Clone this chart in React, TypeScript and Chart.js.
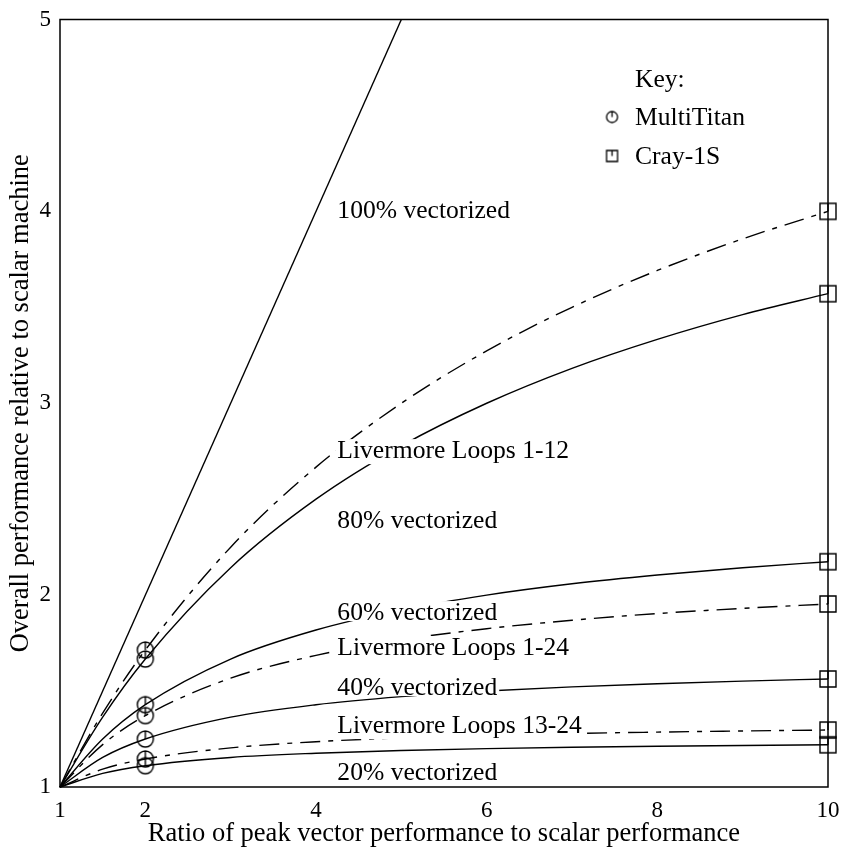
import React, { useEffect, useRef } from "react";
import { Chart, registerables } from "chart.js";

Chart.register(...registerables);

// ---- data ----
const ratios = [1, 1.5, 2, 3, 4, 5, 6, 7, 8, 9, 10];
const vec20 = [1, 1.071, 1.111, 1.154, 1.176, 1.19, 1.2, 1.207, 1.212, 1.216, 1.22];
const vec40 = [1, 1.154, 1.25, 1.364, 1.429, 1.471, 1.5, 1.522, 1.538, 1.552, 1.563];
const vec60 = [1, 1.25, 1.429, 1.667, 1.818, 1.923, 2.0, 2.059, 2.105, 2.143, 2.174];
const vec80 = [1, 1.364, 1.667, 2.143, 2.5, 2.778, 3.0, 3.182, 3.333, 3.462, 3.571];
const vec100Ratios = [1, 5];
const vec100 = [1, 5];
const ll1to12 = [1, 1.385, 1.714, 2.25, 2.667, 3.0, 3.273, 3.5, 3.692, 3.857, 4.0];
const ll1to24 = [1, 1.221, 1.372, 1.567, 1.686, 1.767, 1.825, 1.869, 1.904, 1.931, 1.954];
const ll13to24 = [1, 1.093, 1.146, 1.204, 1.236, 1.256, 1.269, 1.279, 1.286, 1.292, 1.297];

const multiTitanRatio = 2;
const cray1SRatio = 10;

const xTickValues = [1, 2, 4, 6, 8, 10];
const yTickValues = [1, 2, 3, 4, 5];

const curveLabels = [
  "100% vectorized",
  "Livermore Loops 1-12",
  "80% vectorized",
  "60% vectorized",
  "Livermore Loops 1-24",
  "40% vectorized",
  "Livermore Loops 13-24",
  "20% vectorized",
];
// label anchors (data units: left x, text baseline y)
const curveLabelX = 4.25;
const curveLabelBaseY = [3.965, 2.714, 2.35, 1.87, 1.688, 1.479, 1.281, 1.036];

const keyTitle = "Key:";
const keyNames = ["MultiTitan", "Cray-1S"];
const keyTextX = 7.738;
const keySymbolX = 7.469;
const keyBaseY = [4.648, 4.45, 4.247];

const xTitle = "Ratio of peak vector performance to scalar performance";
const yTitle = "Overall performance relative to scalar machine";

const FONT = '"Liberation Serif", "Times New Roman", serif';
const LABEL_SIZE = 25.6;
const TITLE_SIZE = 26.5;

function makeMarker(kind: "circle" | "square", size: number, lw: number): HTMLCanvasElement {
  const s = size + 4;
  const c = document.createElement("canvas");
  c.width = s;
  c.height = s;
  const g = c.getContext("2d")!;
  g.strokeStyle = "#000";
  g.lineWidth = lw;
  const m = s / 2;
  const r = size / 2;
  g.beginPath();
  if (kind === "circle") {
    g.arc(m, m, r, 0, Math.PI * 2);
  } else {
    g.rect(m - r, m - r, size, size);
  }
  g.moveTo(m, m - r);
  g.lineTo(m, m);
  g.stroke();
  return c;
}

export default function App() {
  const ref = useRef<HTMLCanvasElement | null>(null);

  useEffect(() => {
    document.body.style.margin = "0";
    const canvas = ref.current;
    if (!canvas) return;

    const circ = makeMarker("circle", 16, 1.4);
    const sq = makeMarker("square", 16, 1.4);
    const keyCirc = makeMarker("circle", 11, 1.3);
    const keySq = makeMarker("square", 11, 1.3);

    const toPts = (xs: number[], ys: number[]) => xs.map((x, i) => ({ x, y: ys[i] }));

    const markerStyle = (ctx: any) => {
      const raw = ctx.raw;
      if (!raw) return false;
      if (raw.x === multiTitanRatio) return circ;
      if (raw.x === cray1SRatio) return sq;
      return false;
    };
    const markerRadius = (ctx: any) => {
      const raw = ctx.raw;
      if (!raw) return 0;
      return raw.x === multiTitanRatio || raw.x === cray1SRatio ? 8 : 0;
    };

    const solid = (label: string, ys: number[]) => ({
      label,
      data: toPts(ratios, ys),
      borderColor: "#000",
      borderWidth: 1.4,
      fill: false,
      cubicInterpolationMode: "monotone" as const,
      pointStyle: markerStyle,
      pointRadius: markerRadius,
      clip: false as const,
    });
    const dashed = (label: string, ys: number[]) => ({
      ...solid(label, ys),
      borderDash: [20, 8, 5, 8],
    });

    const overlay = {
      id: "overlay",
      afterDatasetsDraw(chart: any) {
        const { ctx, scales } = chart;
        const xs = scales.x;
        const ys = scales.y;
        ctx.save();
        ctx.font = `${LABEL_SIZE}px ${FONT}`;
        ctx.textBaseline = "alphabetic";
        ctx.textAlign = "left";
        curveLabels.forEach((t, i) => {
          const px = xs.getPixelForValue(curveLabelX);
          const py = ys.getPixelForValue(curveLabelBaseY[i]);
          const m = ctx.measureText(t);
          ctx.fillStyle = "#fff";
          ctx.fillRect(
            px - 2,
            py - m.actualBoundingBoxAscent - 2,
            m.width + 4,
            m.actualBoundingBoxAscent + m.actualBoundingBoxDescent + 3
          );
          ctx.fillStyle = "#000";
          ctx.fillText(t, px, py);
        });
        // key
        const tx = xs.getPixelForValue(keyTextX);
        const sx = xs.getPixelForValue(keySymbolX);
        ctx.fillStyle = "#000";
        ctx.fillText(keyTitle, tx, ys.getPixelForValue(keyBaseY[0]));
        [keyCirc, keySq].forEach((img, i) => {
          const by = ys.getPixelForValue(keyBaseY[i + 1]);
          ctx.fillText(keyNames[i], tx, by);
          ctx.drawImage(img, sx - img.width / 2, by - 8 - img.height / 2);
        });
        ctx.restore();
      },
      afterDraw(chart: any) {
        const { ctx, chartArea } = chart;
        ctx.save();
        ctx.strokeStyle = "#000";
        ctx.lineWidth = 1.5;
        ctx.strokeRect(
          chartArea.left,
          chartArea.top,
          chartArea.right - chartArea.left,
          chartArea.bottom - chartArea.top
        );
        ctx.restore();
      },
    };

    const chart = new Chart(canvas, {
      type: "line",
      data: {
        datasets: [
          { ...solid("100% vectorized", vec100), data: toPts(vec100Ratios, vec100), pointRadius: 0 },
          dashed("Livermore Loops 1-12", ll1to12),
          solid("80% vectorized", vec80),
          solid("60% vectorized", vec60),
          dashed("Livermore Loops 1-24", ll1to24),
          solid("40% vectorized", vec40),
          dashed("Livermore Loops 13-24", ll13to24),
          solid("20% vectorized", vec20),
        ] as any,
      },
      options: {
        responsive: false,
        animation: false,
        devicePixelRatio: 1,
        events: [],
        layout: { padding: { top: 19.5, right: 15, left: 0, bottom: 0 } },
        plugins: {
          legend: { display: false },
          tooltip: { enabled: false },
        },
        scales: {
          x: {
            type: "linear",
            min: 1,
            max: 10,
            grid: { display: false, drawTicks: false },
            border: { display: false },
            afterBuildTicks: (scale: any) => {
              scale.ticks = xTickValues.map((v) => ({ value: v }));
            },
            afterFit: (scale: any) => {
              scale.height = 60;
              scale.paddingLeft = 0;
              scale.paddingRight = 0;
            },
            ticks: {
              color: "#000",
              font: { family: FONT, size: 23 },
              padding: 10,
              maxRotation: 0,
              autoSkip: false,
            },
            title: {
              display: true,
              text: xTitle,
              color: "#000",
              font: { family: FONT, size: TITLE_SIZE, lineHeight: 1 },
              padding: { top: 0, bottom: 0 },
            },
          },
          y: {
            type: "linear",
            min: 1,
            max: 5,
            grid: { display: false, drawTicks: false },
            border: { display: false },
            afterBuildTicks: (scale: any) => {
              scale.ticks = yTickValues.map((v) => ({ value: v }));
            },
            afterFit: (scale: any) => {
              scale.width = 60;
              scale.paddingTop = 0;
              scale.paddingBottom = 0;
            },
            ticks: {
              color: "#000",
              font: { family: FONT, size: 23 },
              padding: 9,
              autoSkip: false,
            },
            title: {
              display: true,
              text: yTitle,
              color: "#000",
              font: { family: FONT, size: TITLE_SIZE, lineHeight: 1 },
              padding: { top: 8, bottom: 0 },
            },
          },
        },
      },
      plugins: [overlay],
    });

    return () => chart.destroy();
  }, []);

  return (
    <div style={{ width: 843, height: 847 }}>
      <canvas ref={ref} width={843} height={847} style={{ display: "block", width: 843, height: 847 }} />
    </div>
  );
}
